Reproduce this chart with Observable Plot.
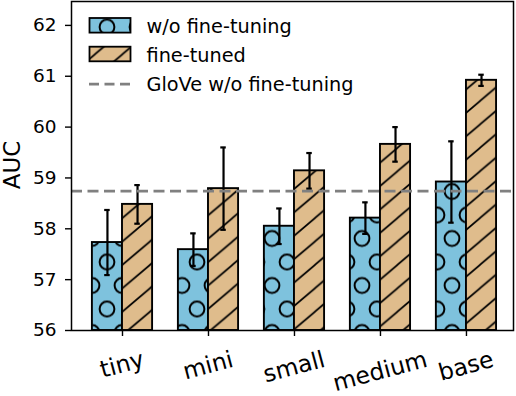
<!DOCTYPE html>
<html><head><meta charset="utf-8">
<script src="https://cdn.jsdelivr.net/npm/d3@7"></script>
<script src="https://cdn.jsdelivr.net/npm/@observablehq/plot@0.6"></script>
<style>
body{margin:0;background:#fff;}
#chart svg{font-family:"DejaVu Sans",sans-serif;background:#fff;display:block;}
</style></head><body><div id="chart"></div>
<script>
const categories = ["tiny", "mini", "small", "medium", "base"];
const seriesNames = ["w/o fine-tuning", "fine-tuned"];
const baseMean = [57.73, 57.59, 58.05, 58.21, 58.92];
const baseErr  = [0.64, 0.32, 0.35, 0.31, 0.80];
const ftMean   = [58.48, 58.79, 59.14, 59.66, 60.92];
const ftErr    = [0.38, 0.81, 0.35, 0.34, 0.11];
const gloveValue = 58.74;
const gloveLabel = "GloVe w/o fine-tuning";
const yTicks = [56, 57, 58, 59, 60, 61, 62];
const yLabel = "AUC";

const blue = "#7ec2dd", tan = "#dfbc8c";
const barW = 0.35, capHalf = 0.032;
const rows = [];
categories.forEach((c, i) => {
  rows.push({cat: c, i, s: 0, x1: i - barW, x2: i, mean: baseMean[i], err: baseErr[i]});
  rows.push({cat: c, i, s: 1, x1: i, x2: i + barW, mean: ftMean[i], err: ftErr[i]});
});
const ctr = d => (d.x1 + d.x2) / 2;
const yMin = yTicks[0];

const chart = Plot.plot({
  width: 516, height: 396,
  marginLeft: 71, marginRight: 3, marginTop: 1, marginBottom: 66,
  x: {domain: [-0.593, 4.547], axis: null},
  y: {domain: [56, 62.47], axis: null},
  marks: [
    Plot.rect(rows.filter(d => d.s === 0), {x1: "x1", x2: "x2", y1: () => yMin, y2: "mean", fill: "url(#hatchDots)", stroke: "black", strokeWidth: 1.9}),
    Plot.rect(rows.filter(d => d.s === 1), {x1: "x1", x2: "x2", y1: () => yMin, y2: "mean", fill: "url(#hatchDiag)", stroke: "black", strokeWidth: 1.9}),
    Plot.ruleX(rows, {x: ctr, y1: d => d.mean - d.err, y2: d => d.mean + d.err, stroke: "black", strokeWidth: 2.2}),
    Plot.ruleY(rows, {x1: d => ctr(d) - capHalf, x2: d => ctr(d) + capHalf, y: d => d.mean - d.err, stroke: "black", strokeWidth: 2.2}),
    Plot.ruleY(rows, {x1: d => ctr(d) - capHalf, x2: d => ctr(d) + capHalf, y: d => d.mean + d.err, stroke: "black", strokeWidth: 2.2}),
    Plot.ruleY([gloveValue], {stroke: "#808080", strokeWidth: 2.8, strokeDasharray: "11,5.5"}),
    Plot.axisY(yTicks, {tickSize: 6, tickPadding: 9, fontSize: 18.5, tickFormat: d3.format("d"), label: null, stroke: "black", strokeWidth: 1.4}),
    Plot.axisX(categories.map((c, i) => i), {tickSize: 6, tickFormat: () => "", label: null, stroke: "black", strokeWidth: 1.4}),
    Plot.frame({stroke: "black", strokeWidth: 1.5})
  ]
});
document.getElementById("chart").appendChild(chart);
const svg = d3.select(chart);
svg.selectAll("g[aria-label='y-axis tick label'] text, g[aria-label='y-axis tick label']").attr("fill", "black");

// hatch patterns
const defs = svg.insert("defs", ":first-child");
const pd = defs.append("pattern").attr("id", "hatchDots").attr("patternUnits", "userSpaceOnUse")
  .attr("x", 2).attr("y", 3.5).attr("width", 30).attr("height", 47);
pd.append("rect").attr("width", 30).attr("height", 47).attr("fill", blue);
[[0,0],[30,0],[0,47],[30,47],[15,23.5]].forEach(([cx, cy]) =>
  pd.append("circle").attr("cx", cx).attr("cy", cy).attr("r", 7.4).attr("fill", "none").attr("stroke", "black").attr("stroke-width", 2));
const W = 27.5, H = 23.4;
const pg = defs.append("pattern").attr("id", "hatchDiag").attr("patternUnits", "userSpaceOnUse")
  .attr("x", 12.3).attr("y", 7.6).attr("width", W).attr("height", H);
pg.append("rect").attr("width", W).attr("height", H).attr("fill", tan);
pg.append("path").attr("d", `M${-W},${2*H}L${2*W},${-H}M${-W},${H}L${W},${-H}M0,${2*H}L${2*W},0`)
  .attr("stroke", "black").attr("stroke-width", 1.7).attr("fill", "none");

// x tick labels (rotated, centered like matplotlib)
const xs = chart.scale("x");
const gx = svg.append("g").attr("font-size", 23.5).attr("fill", "black");
const a = 15 * Math.PI / 180, labelTop = 345;
categories.forEach((c, i) => {
  const t = gx.append("text").text(c).attr("text-anchor", "middle");
  const bb = t.node().getBBox();
  const hh = (bb.width * Math.sin(a) + bb.height * Math.cos(a)) / 2;
  t.attr("transform", `translate(${xs.apply(i)},${labelTop + hh}) rotate(-15) translate(${-(bb.x + bb.width / 2)},${-(bb.y + bb.height / 2)})`);
});

// y label
svg.append("text").text(yLabel).attr("font-size", 23).attr("text-anchor", "middle")
  .attr("transform", "translate(20,165) rotate(-90)").attr("fill", "black");

// legend
const lg = svg.append("g").attr("text-anchor", "start");
const items = [{label: seriesNames[0], fill: "url(#hatchDots)"}, {label: seriesNames[1], fill: "url(#hatchDiag)"}, {label: gloveLabel, line: true}];
items.forEach((it, k) => {
  const base = 33.3 + k * 28.7;
  if (it.line) {
    lg.append("line").attr("x1", 89).attr("x2", 131).attr("y1", base - 6.5).attr("y2", base - 6.5)
      .attr("stroke", "#808080").attr("stroke-width", 2.8).attr("stroke-dasharray", "10,5.5");
  } else {
    lg.append("rect").attr("x", 89.5).attr("y", base - 15.3).attr("width", 41).attr("height", 14.6)
      .attr("fill", it.fill).attr("stroke", "black").attr("stroke-width", 1.8);
  }
  lg.append("text").text(it.label).attr("x", 146.5).attr("y", base).attr("font-size", 19.3).attr("text-anchor", "start").attr("fill", "black");
});
</script></body></html>
